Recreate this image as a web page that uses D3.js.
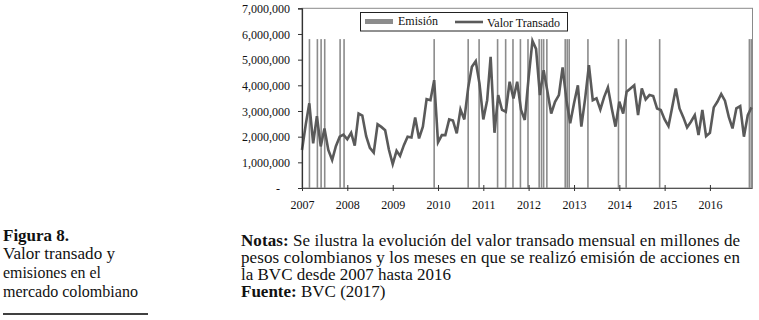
<!DOCTYPE html>
<html>
<head>
<meta charset="utf-8">
<script src="https://cdn.jsdelivr.net/npm/d3@7"></script>
<style>
  html, body { margin: 0; padding: 0; background: #fff; }
  svg { display: block; }
  text { font-family: "Liberation Serif", "Times New Roman", serif; fill: #111; }
</style>
</head>
<body>
<svg id="chart" width="759" height="320"></svg>
<script>
// ---------------- DATA ----------------
const startMonth = "2007-01";
// Monthly traded value (COP), Jan 2007 .. Dec 2016
const valorTransado = [
  1480000, 2500000, 3300000, 1740000, 2800000, 1620000, 2320000, 1480000, 1090000, 1630000, 2000000, 2080000,
  1900000, 2150000, 1650000, 2900000, 2820000, 2020000, 1560000, 1380000, 2480000, 2380000, 2250000, 1500000,
  930000, 1450000, 1250000, 1670000, 2000000, 1970000, 2750000, 1930000, 2390000, 3460000, 3420000, 4200000,
  1780000, 2060000, 2060000, 2670000, 2630000, 2130000, 3060000, 2670000, 3900000, 4720000, 4940000, 4070000,
  2670000, 3420000, 5110000, 2150000, 3620000, 3040000, 2970000, 4140000, 3490000, 4140000, 3040000, 2650000,
  4300000, 5730000, 5420000, 3620000, 4590000, 3750000, 2900000, 3360000, 3620000, 4700000, 3420000, 2520000,
  3300000, 4000000, 2390000, 3500000, 4790000, 3420000, 3490000, 3060000, 3550000, 3920000, 3100000, 2390000,
  3360000, 2900000, 3750000, 3880000, 4000000, 2840000, 3880000, 3450000, 3620000, 3580000, 3100000, 3040000,
  2670000, 2410000, 3100000, 3880000, 3100000, 2750000, 2360000, 2580000, 2840000, 2060000, 3040000, 2020000,
  2150000, 3140000, 3360000, 3660000, 3400000, 2770000, 2320000, 3100000, 3190000, 2000000, 2840000, 3140000
];
// Dates of share issues (Emisión)
const emisionDates = [
  "2007-03-02", "2007-05-05", "2007-06-04", "2007-07-03", "2007-11-04", "2007-12-06",
  "2009-12-01", "2010-09-01", "2010-11-28",
  "2011-04-26", "2011-06-30", "2011-08-28", "2011-10-27", "2011-12-27",
  "2012-03-26", "2012-04-14", "2012-05-01", "2012-05-27",
  "2012-10-22", "2012-11-07", "2012-11-23", "2013-04-23",
  "2013-12-25", "2014-02-25", "2014-11-22", "2016-11-14", "2016-11-29"
];
const emisionLevel = 5800000;
const yTickValues = [0, 1000000, 2000000, 3000000, 4000000, 5000000, 6000000, 7000000];
const yTickLabels = ["-", "1,000,000", "2,000,000", "3,000,000", "4,000,000", "5,000,000", "6,000,000", "7,000,000"];
const yearLabels = ["2007", "2008", "2009", "2010", "2011", "2012", "2013", "2014", "2015", "2016"];
const legendLabels = ["Emisión", "Valor Transado"];

const captionTitle = "Figura 8.";
const captionLines = ["Valor transado y", "emisiones en el", "mercado colombiano"];
const notesLines = [
  { bold: "Notas:", text: " Se ilustra la evolución del valor transado mensual en millones de", justify: true },
  { bold: "", text: "pesos colombianos y los meses en que se realizó emisión de acciones en", justify: true },
  { bold: "", text: "la BVC desde 2007 hasta 2016", justify: false },
  { bold: "Fuente:", text: " BVC (2017)", justify: false }
];

// ---------------- DRAW ----------------
const svg = d3.select("#chart");
const parse = d3.timeParse("%Y-%m-%d");
const t0 = d3.timeParse("%Y-%m")(startMonth);
const months = valorTransado.map((v, i) => ({ date: d3.timeMonth.offset(t0, i), value: v }));

const plot = { left: 302, right: 752.5, top: 8.3, bottom: 188 };
const x = d3.scaleTime()
  .domain([months[0].date, months[months.length - 1].date])
  .range([plot.left, 751.5]);
const y = d3.scaleLinear().domain([0, 7000000]).range([plot.bottom, plot.top]);

// plot border (gray)
svg.append("rect")
  .attr("x", plot.left).attr("y", plot.top)
  .attr("width", plot.right - plot.left).attr("height", plot.bottom - plot.top)
  .attr("fill", "none").attr("stroke", "#8a8a8a").attr("stroke-width", 1);

// emission bars
svg.append("g").selectAll("rect")
  .data(emisionDates.map(parse))
  .join("rect")
  .attr("x", d => x(d) - 0.8)
  .attr("width", 1.6)
  .attr("y", y(emisionLevel))
  .attr("height", y(0) - y(emisionLevel))
  .attr("fill", "#8c8c8c");

// line
svg.append("path")
  .datum(months)
  .attr("fill", "none")
  .attr("stroke", "#5a5a5a")
  .attr("stroke-width", 2.6)
  .attr("stroke-linejoin", "miter")
  .attr("d", d3.line().x(d => x(d.date)).y(d => y(d.value)));

// y axis
const yAxis = d3.axisLeft(y)
  .tickValues(yTickValues)
  .tickSize(4)
  .tickPadding(8)
  .tickFormat((d, i) => yTickLabels[i]);
const gy = svg.append("g").attr("transform", `translate(${plot.left},0)`).call(yAxis);
gy.select(".domain").attr("stroke", "#333").attr("stroke-width", 1.2);
gy.selectAll(".tick line").attr("stroke", "#333");
gy.selectAll(".tick text")
  .style("font-family", "Liberation Serif")
  .style("font-size", "12px")
  .attr("fill", "#111")
  .attr("dy", "0.35em")
  .attr("dx", (d) => d === 0 ? "-10px" : "0");

// x axis
const yearDates = yearLabels.map(yy => d3.timeParse("%Y")(yy));
const xAxis = d3.axisBottom(x)
  .tickValues(yearDates)
  .tickSize(3)
  .tickPadding(9)
  .tickFormat((d, i) => yearLabels[i]);
const gx = svg.append("g").attr("transform", `translate(0,${plot.bottom})`).call(xAxis);
gx.select(".domain").attr("stroke", "#555").attr("stroke-width", 1).attr("d", `M${plot.left},0.5H${plot.right}`);
gx.selectAll(".tick line").attr("stroke", "#333").attr("y1", -3).attr("y2", 3);
gx.selectAll(".tick text")
  .style("font-family", "Liberation Serif")
  .style("font-size", "12px")
  .attr("fill", "#111");

// legend
const lg = svg.append("g");
lg.append("rect").attr("x", 360.5).attr("y", 12.5).attr("width", 207).attr("height", 18.5)
  .attr("fill", "#fff").attr("stroke", "#222").attr("stroke-width", 1);
lg.append("rect").attr("x", 365).attr("y", 19).attr("width", 28).attr("height", 5).attr("fill", "#8c8c8c");
lg.append("text").attr("x", 398).attr("y", 25).style("font-size", "12px").text(legendLabels[0]);
lg.append("line").attr("x1", 455).attr("x2", 483).attr("y1", 22).attr("y2", 22)
  .attr("stroke", "#5a5a5a").attr("stroke-width", 2.6);
lg.append("text").attr("x", 487).attr("y", 26.5).style("font-size", "12px").text(legendLabels[1]);

// left caption
const cap = svg.append("g");
cap.append("text").attr("x", 3).attr("y", 241)
  .style("font-size", "17px").style("font-weight", "bold").text(captionTitle);
const capY = [259, 278, 297];
const capW = [112, 98, 135];
captionLines.forEach((t, i) => {
  cap.append("text").attr("x", 3).attr("y", capY[i])
    .style("font-size", "16px")
    .attr("textLength", capW[i]).attr("lengthAdjust", "spacingAndGlyphs")
    .text(t);
});
cap.append("line").attr("x1", 3).attr("x2", 148).attr("y1", 314).attr("y2", 314)
  .attr("stroke", "#000").attr("stroke-width", 1.6);

// notes
const notesY = [246, 263, 280, 297];
notesLines.forEach((ln, i) => {
  const tx = svg.append("text").attr("x", 241).attr("y", notesY[i]).style("font-size", "17px");
  if (ln.justify) tx.attr("textLength", 499).attr("lengthAdjust", "spacing");
  if (ln.bold) tx.append("tspan").style("font-weight", "bold").text(ln.bold);
  tx.append("tspan").text(ln.text);
});
</script>
</body>
</html>
